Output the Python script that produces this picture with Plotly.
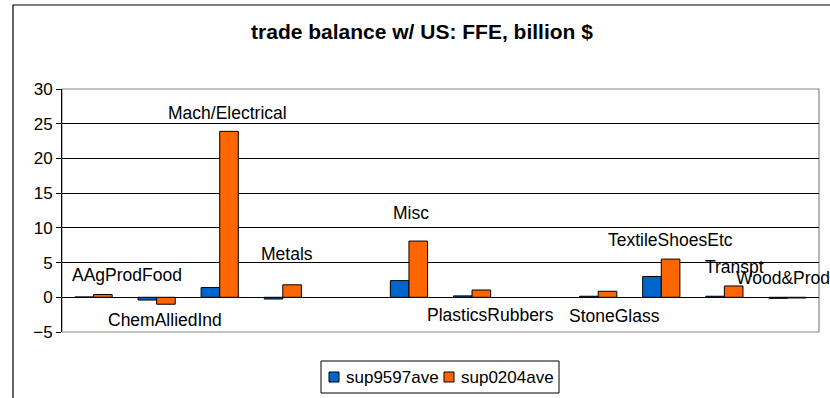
import plotly.graph_objects as go

categories = ["AAgProdFood", "ChemAlliedInd", "Mach/Electrical", "Metals", "",
              "Misc", "PlasticsRubbers", " ", "StoneGlass", "TextileShoesEtc",
              "Transpt", "Wood&Prod"]
sup9597ave = [0.05, -0.4, 1.4, -0.25, None, 2.4, 0.2, None, 0.15, 3.0, 0.15, -0.15]
sup0204ave = [0.4, -1.0, 23.9, 1.8, None, 8.1, 1.05, None, 0.87, 5.5, 1.63, -0.1]
y_ticks = [-5, 0, 5, 10, 15, 20, 25, 30]
series_names = ["sup9597ave", "sup0204ave"]
series_colors = ["#0066CC", "#FF6600"]

# label placement (pixel shift, y position in data units) for each category label
label_pos = {
    "AAgProdFood": (33, 3.2),
    "ChemAlliedInd": (8, -3.3),
    "Mach/Electrical": (8, 26.6),
    "Metals": (4, 6.3),
    "Misc": (2, 12.1),
    "PlasticsRubbers": (18, -2.6),
    "StoneGlass": (16, -2.75),
    "TextileShoesEtc": (9, 8.2),
    "Transpt": (10, 4.4),
    "Wood&Prod": (-4, 2.75),
}

W, H = 830, 398
L, R, T, B = 62, 11, 89, 66
pw, ph = W - L - R, H - T - B


def px(xp):
    return (xp - L) / pw


def py(yp):
    return (H - B - yp) / ph


xs = list(range(len(categories)))
fig = go.Figure()
for name, vals, col in zip(series_names, [sup9597ave, sup0204ave], series_colors):
    fig.add_trace(go.Bar(x=xs, y=vals, name=name,
                         marker=dict(color=col, line=dict(color="#000000", width=1))))

font = "Liberation Sans, Arial, sans-serif"
annotations = []
for i, c in enumerate(categories):
    if c.strip() and c in label_pos:
        dx, yv = label_pos[c]
        annotations.append(dict(x=i, y=yv, xref="x", yref="y", text=c, showarrow=False,
                                xshift=dx, font=dict(family=font, size=17.5, color="#000000")))

shapes = [
    # outer chart frame (left and top visible, rest beyond the canvas)
    dict(type="rect", xref="paper", yref="paper",
         x0=px(13), x1=px(W + 20), y0=py(H + 20), y1=py(5),
         line=dict(color="#000000", width=1.2), layer="below"),
    # plot area border
    dict(type="rect", xref="paper", yref="paper", x0=0, x1=1, y0=0, y1=1,
         line=dict(color="#888888", width=1.2), layer="below"),
    # legend box
    dict(type="rect", xref="paper", yref="paper",
         x0=px(321), x1=px(559), y0=py(393), y1=py(361),
         line=dict(color="#000000", width=1), fillcolor="white"),
]
# legend entries
leg_sq_x = [329, 444]
leg_tx_x = [344, 459]
for name, col, sx, tx in zip(series_names, series_colors, leg_sq_x, leg_tx_x):
    shapes.append(dict(type="rect", xref="paper", yref="paper",
                       x0=px(sx), x1=px(sx + 10), y0=py(382), y1=py(372),
                       line=dict(color="#000000", width=1), fillcolor=col))
    annotations.append(dict(x=px(tx), y=py(377), xref="paper", yref="paper",
                            xanchor="left", yanchor="middle", text=name, showarrow=False,
                            font=dict(family=font, size=17, color="#000000")))

fig.update_layout(
    width=W, height=H,
    margin=dict(l=L, r=R, t=T, b=B, autoexpand=False),
    paper_bgcolor="white", plot_bgcolor="white",
    barmode="group", bargap=0.41, bargroupgap=0,
    title=dict(text="<b>trade balance w/ US: FFE, billion $</b>", x=px(422),
               xref="paper", xanchor="center", yref="container", y=1 - 32 / H,
               yanchor="middle",
               font=dict(family=font, size=21, color="#000000")),
    xaxis=dict(range=[-0.5, len(categories) - 0.5], showticklabels=False, ticks="",
               showgrid=False, zeroline=False, showline=False),
    yaxis=dict(range=[-5, 30], tickvals=y_ticks, ticks="outside", ticklen=5,
               tickcolor="#000000", showline=True, linecolor="#000000", linewidth=1,
               gridcolor="#000000", gridwidth=1, zeroline=True, zerolinecolor="#000000",
               zerolinewidth=1, tickfont=dict(family=font, size=17, color="#000000")),
    annotations=annotations,
    shapes=shapes,
    showlegend=False,
)

fig.write_html("out.html", config={"displayModeBar": False},
               post_script="document.body.style.margin='0';document.body.style.padding='0';")
